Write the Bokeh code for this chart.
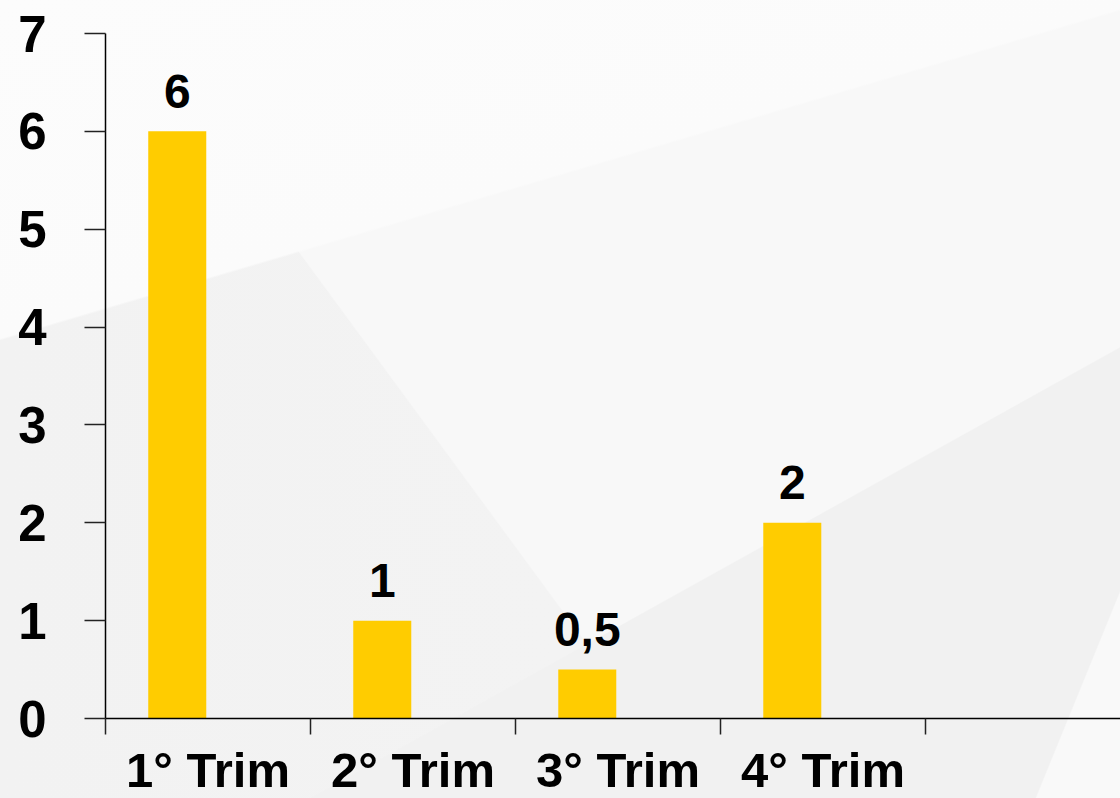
from bokeh.plotting import figure
from bokeh.models import Range1d, FixedTicker, ColumnDataSource
from bokeh.core.properties import value
from bokeh.embed import file_html
from bokeh.resources import INLINE

# ---- data ----
categories = ["1° Trim", "2° Trim", "3° Trim", "4° Trim"]
values = [6, 1, 0.5, 2]
y_ticks = [0, 1, 2, 3, 4, 5, 6, 7]

def fmt(v):
    return ("%g" % v).replace(".", ",")

idx = list(range(len(categories)))
bar_x = [i + 0.35 for i in idx]           # bar sits left of category centre
src = ColumnDataSource(dict(x=bar_x, top=values, label=[fmt(v) for v in values]))

FONT = "Liberation Sans"

p = figure(frame_width=1015, frame_height=685, output_backend="svg", toolbar_location=None,
           x_range=Range1d(0, 4.951), y_range=Range1d(0, 7),
           min_border_left=105, min_border_right=0, min_border_top=33, min_border_bottom=80)

p.background_fill_color = None
p.border_fill_color = None
p.outline_line_color = None
p.grid.visible = False
p.styles = {
    "background": (
        "linear-gradient(112.2deg, rgba(248,248,248,0) 94.1%, #f9f9f9 94.2%),"
        "linear-gradient(163.6deg, #fcfcfc 0%, #fbfbfb 30%, rgba(251,251,251,0) 30.2%),"
        "linear-gradient(150.9deg, rgba(241,241,241,0) 68.2%, #f1f1f1 68.3%),"
        "linear-gradient(53.7deg, rgba(248,248,248,0) 41%, #f8f8f8 41.1%),"
        "linear-gradient(90deg, #f2f2f2 0%, #f4f4f4 100%)"
    )
}

p.vbar(x="x", top="top", bottom=0, width=0.283, source=src,
       fill_color="#FFCC00", line_color=None)

p.text(x="x", y="top", text="label", source=src, text_align="center",
       text_baseline="alphabetic", y_offset=-40,
       text_font=value(FONT), text_font_style="bold", text_font_size="48px",
       text_color="black")

# y axis
ya = p.yaxis[0]
ya.ticker = FixedTicker(ticks=y_ticks, minor_ticks=[])
ya.major_tick_out = 21
ya.major_tick_in = 0
ya.minor_tick_out = 0
ya.minor_tick_in = 0
ya.major_tick_line_color = "#222222"
ya.major_tick_line_width = 1.5
ya.axis_line_color = "black"
ya.axis_line_width = 1.5
ya.major_label_standoff = 38
ya.major_label_text_font = FONT
ya.major_label_text_font_style = "bold"
ya.major_label_text_font_size = "51px"
ya.major_label_text_color = "black"

# x axis: category labels at centres, boundary ticks as minor ticks
xa = p.xaxis[0]
xa.ticker = FixedTicker(ticks=[i + 0.5 for i in idx], minor_ticks=[0, 1, 2, 3, 4])
xa.major_label_overrides = {i + 0.5: c for i, c in zip(idx, categories)}
xa.major_tick_out = 0
xa.major_tick_in = 0
xa.minor_tick_out = 16
xa.minor_tick_in = 0
xa.minor_tick_line_color = "#222222"
xa.minor_tick_line_width = 1.5
xa.axis_line_color = "black"
xa.axis_line_width = 1.5
xa.major_label_standoff = 8
xa.major_label_text_font = FONT
xa.major_label_text_font_style = "bold"
xa.major_label_text_font_size = "49px"
xa.major_label_text_line_height = 1.0
xa.major_label_text_color = "black"

open("out.html", "w").write(file_html(p, INLINE))
